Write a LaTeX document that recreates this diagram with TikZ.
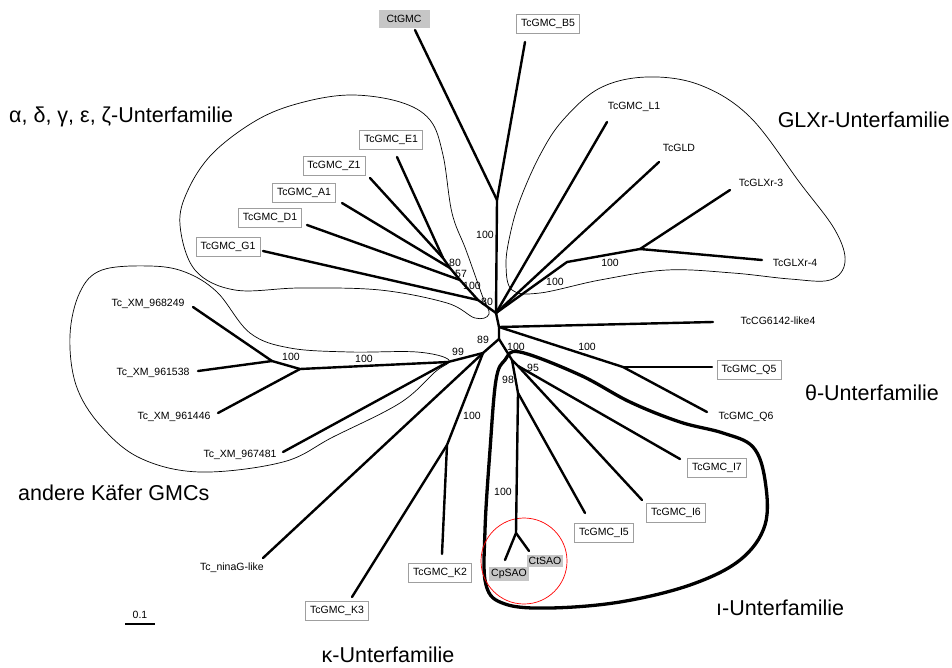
\documentclass[tikz,border=0pt]{standalone}
\usepackage{fontspec}
\setmainfont{Liberation Sans}
\begin{document}
\begin{tikzpicture}[x=1pt,y=-1pt,
 branch/.style={line width=2.4pt, line cap=round},
 leaf/.style={font=\fontsize{10.5}{12}\selectfont, inner sep=1pt},
 boxed/.style={leaf, draw=gray!75, line width=0.7pt, fill=white, inner xsep=4.5pt, minimum height=19.5pt},
 shaded/.style={leaf, fill=gray!45, inner xsep=2pt, inner ysep=2pt},
 boot/.style={font=\fontsize{10.5}{12}\selectfont, inner sep=0.5pt},
 family/.style={font=\fontsize{21.5}{24}\selectfont, inner sep=0pt},
 clade/.style={line width=0.7pt},
 iclade/.style={line width=3.3pt},
]
\useasboundingbox (0,0) rectangle (952,667);

% ---------- clade outlines ----------
\draw[clade] plot[smooth cycle, tension=0.6] coordinates {(489,314) (475,318) (447,303) (380,290) (300,288) (235,290) (195,270) (180,225) (188,190) (213,153) (257,120) (300,103) (350,95) (400,102) (430,120) (443,155) (452,213) (466,250) (482,295)};
\draw[clade] plot[smooth cycle, tension=0.6] coordinates {(512,290) (506,265) (510,235) (520,200) (540,155) (563,120) (600,88) (647,77) (700,85) (750,117) (800,183) (835,230) (845,262) (830,280) (790,279) (733,273) (667,270) (600,280) (540,293)};
\draw[clade] plot[smooth cycle, tension=0.6] coordinates {(449,360) (435,372) (400,403) (333,437) (283,462) (200,472) (140,458) (100,425) (76,385) (70,335) (80,292) (102,270) (150,266) (185,272) (217,292) (250,333) (290,348) (350,352) (417,352)};
\draw[iclade] plot[smooth cycle, tension=0.6] coordinates {(520,352) (580,375) (630,402) (680,422) (723,433) (753,447) (765,480) (765,525) (740,560) (690,585) (620,602) (550,608) (505,604) (486,585) (485,530) (490,450) (496,380) (505,360)};
\draw[red, line width=0.7pt] (524,561) circle[radius=43];

% ---------- internal nodes ----------
\coordinate (F) at (497,200);
\coordinate (A) at (496,313);
\coordinate (C) at (499,327);
\coordinate (B) at (499,339);
\coordinate (n1) at (443,258);
\coordinate (n2) at (450,268);
\coordinate (n3) at (460,280);
\coordinate (n4) at (478,300);
\coordinate (g1) at (567,262);
\coordinate (g2) at (640,249);
\coordinate (q) at (623,367);
\coordinate (t0) at (512,360);
\coordinate (t3) at (518,366);
\coordinate (t1) at (518,393);
\coordinate (t2) at (516,533);
\coordinate (k0) at (483,353);
\coordinate (kc) at (448,362);
\coordinate (kb) at (300,369);
\coordinate (ka) at (272,361);
\coordinate (kK) at (447,445);

% ---------- leaf ends ----------
\coordinate (eCtGMC) at (415,30);
\coordinate (eB5) at (525,42);
\coordinate (eE1) at (397,157);
\coordinate (eZ1) at (370,178);
\coordinate (eA1) at (342,203);
\coordinate (eD1) at (307,225);
\coordinate (eG1) at (263,251);
\coordinate (eL1) at (607,122);
\coordinate (eGLD) at (659,162);
\coordinate (eGLX3) at (730,190);
\coordinate (eGLX4) at (762,260);
\coordinate (eCG) at (713,322);
\coordinate (eQ5) at (712,367);
\coordinate (eQ6) at (707,412);
\coordinate (eI7) at (680,459);
\coordinate (eI6) at (642,500);
\coordinate (eI5) at (585,513);
\coordinate (eCp) at (505,560);
\coordinate (eCt) at (529,551);
\coordinate (e968249) at (193,307);
\coordinate (e961538) at (198,371);
\coordinate (e961446) at (218,413);
\coordinate (e967481) at (283,452);
\coordinate (eNina) at (263,558);
\coordinate (eK2) at (442,554);
\coordinate (eK3) at (352,597);
\coordinate (sb1) at (125,624);
\coordinate (sb2) at (155,624);

% ---------- branches ----------
\draw[branch] (F) -- (eCtGMC);
\draw[branch] (F) -- (eB5);
\draw[branch] (F) -- (A) -- (C) -- (B);
\draw[branch] (A) -- (n4) -- (n3) -- (n2) -- (n1) -- (eE1);
\draw[branch] (n1) -- (eZ1);
\draw[branch] (n2) -- (eA1);
\draw[branch] (n3) -- (eD1);
\draw[branch] (n4) -- (eG1);
\draw[branch] (A) -- (eL1);
\draw[branch] (A) -- (eGLD);
\draw[branch] (A) -- (g1) -- (g2) -- (eGLX3);
\draw[branch] (g2) -- (eGLX4);
\draw[branch] (C) -- (eCG);
\draw[branch] (C) -- (q) -- (eQ6);
\draw[branch] (q) -- (eQ5);
\draw[branch] (B) -- (t0) -- (t3) -- (eI7);
\draw[branch] (t3) -- (eI6);
\draw[branch] (t0) -- (t1) -- (eI5);
\draw[branch] (t1) -- (t2) -- (eCp);
\draw[branch] (t2) -- (eCt);
\draw[branch] (B) -- (k0) -- (kc) -- (kb) -- (ka) -- (e968249);
\draw[branch] (ka) -- (e961538);
\draw[branch] (kb) -- (e961446);
\draw[branch] (kc) -- (e967481);
\draw[branch] (k0) -- (eNina);
\draw[branch] (k0) -- (kK) -- (eK2);
\draw[branch] (kK) -- (eK3);
\draw[line width=2pt] (sb1) -- (sb2);

% ---------- leaf labels ----------
\node[shaded, inner xsep=8pt, minimum height=18pt] (lCtGMC) at (404,19) {CtGMC};
\node[boxed] (lB5) at (548,24) {TcGMC\_B5};
\node[boxed] (lE1) at (391,140) {TcGMC\_E1};
\node[boxed] (lZ1) at (334,166) {TcGMC\_Z1};
\node[boxed] (lA1) at (304,193) {TcGMC\_A1};
\node[boxed] (lD1) at (270,218) {TcGMC\_D1};
\node[boxed] (lG1) at (228,247) {TcGMC\_G1};
\node[leaf] (lL1) at (634,107) {TcGMC\_L1};
\node[leaf] (lGLD) at (679,148) {TcGLD};
\node[leaf] (lGLX3) at (761,183) {TcGLXr-3};
\node[leaf] (lGLX4) at (795,263) {TcGLXr-4};
\node[leaf] (lCG) at (778,321) {TcCG6142-like4};
\node[boxed] (lQ5) at (749,370) {TcGMC\_Q5};
\node[leaf] (lQ6) at (746,417) {TcGMC\_Q6};
\node[boxed] (lI7) at (717,468) {TcGMC\_I7};
\node[boxed] (lI6) at (676,513) {TcGMC\_I6};
\node[boxed] (lI5) at (604,533) {TcGMC\_I5};
\node[shaded] (lCt) at (545,561) {CtSAO};
\node[shaded] (lCp) at (509,574) {CpSAO};
\node[leaf] (l968249) at (148,304) {Tc\_XM\_968249};
\node[leaf] (l961538) at (153,373) {Tc\_XM\_961538};
\node[leaf] (l961446) at (174,417) {Tc\_XM\_961446};
\node[leaf] (l967481) at (240,455) {Tc\_XM\_967481};
\node[leaf] (lNina) at (232,568) {Tc\_ninaG-like};
\node[boxed] (lK2) at (440,573) {TcGMC\_K2};
\node[boxed] (lK3) at (337,611) {TcGMC\_K3};
\node[leaf] (lsb) at (140,615) {0.1};

% ---------- bootstrap values ----------
\node[boot] (b1) at (485,235) {100};
\node[boot] (b2) at (455,263) {80};
\node[boot] (b3) at (461,274) {57};
\node[boot] (b4) at (472,286) {100};
\node[boot] (b5) at (487,302) {80};
\node[boot] (b6) at (555,282) {100};
\node[boot] (b7) at (610,263) {100};
\node[boot] (b8) at (483,340) {89};
\node[boot] (b9) at (458,352) {99};
\node[boot] (b10) at (364,359) {100};
\node[boot] (b11) at (291,357) {100};
\node[boot] (b12) at (472,416) {100};
\node[boot] (b13) at (516,347) {100};
\node[boot] (b14) at (587,347) {100};
\node[boot] (b15) at (533,368) {95};
\node[boot] (b16) at (508,380) {98};
\node[boot] (b17) at (503,492) {100};

% ---------- family labels ----------
\node[family, anchor=west] (fA) at (9,117) {α, δ, γ, ε, ζ-Unterfamilie};
\node[family, anchor=east] (fG) at (950,120) {GLXr-Unterfamilie};
\node[family] (fT) at (872,393) {θ-Unterfamilie};
\node[family, anchor=west] (fK) at (18,493) {andere Käfer GMCs};
\node[family, anchor=west] (fI) at (716,608) {ı-Unterfamilie};
\node[family] (fKa) at (388,655) {κ-Unterfamilie};
\end{tikzpicture}
\end{document}
